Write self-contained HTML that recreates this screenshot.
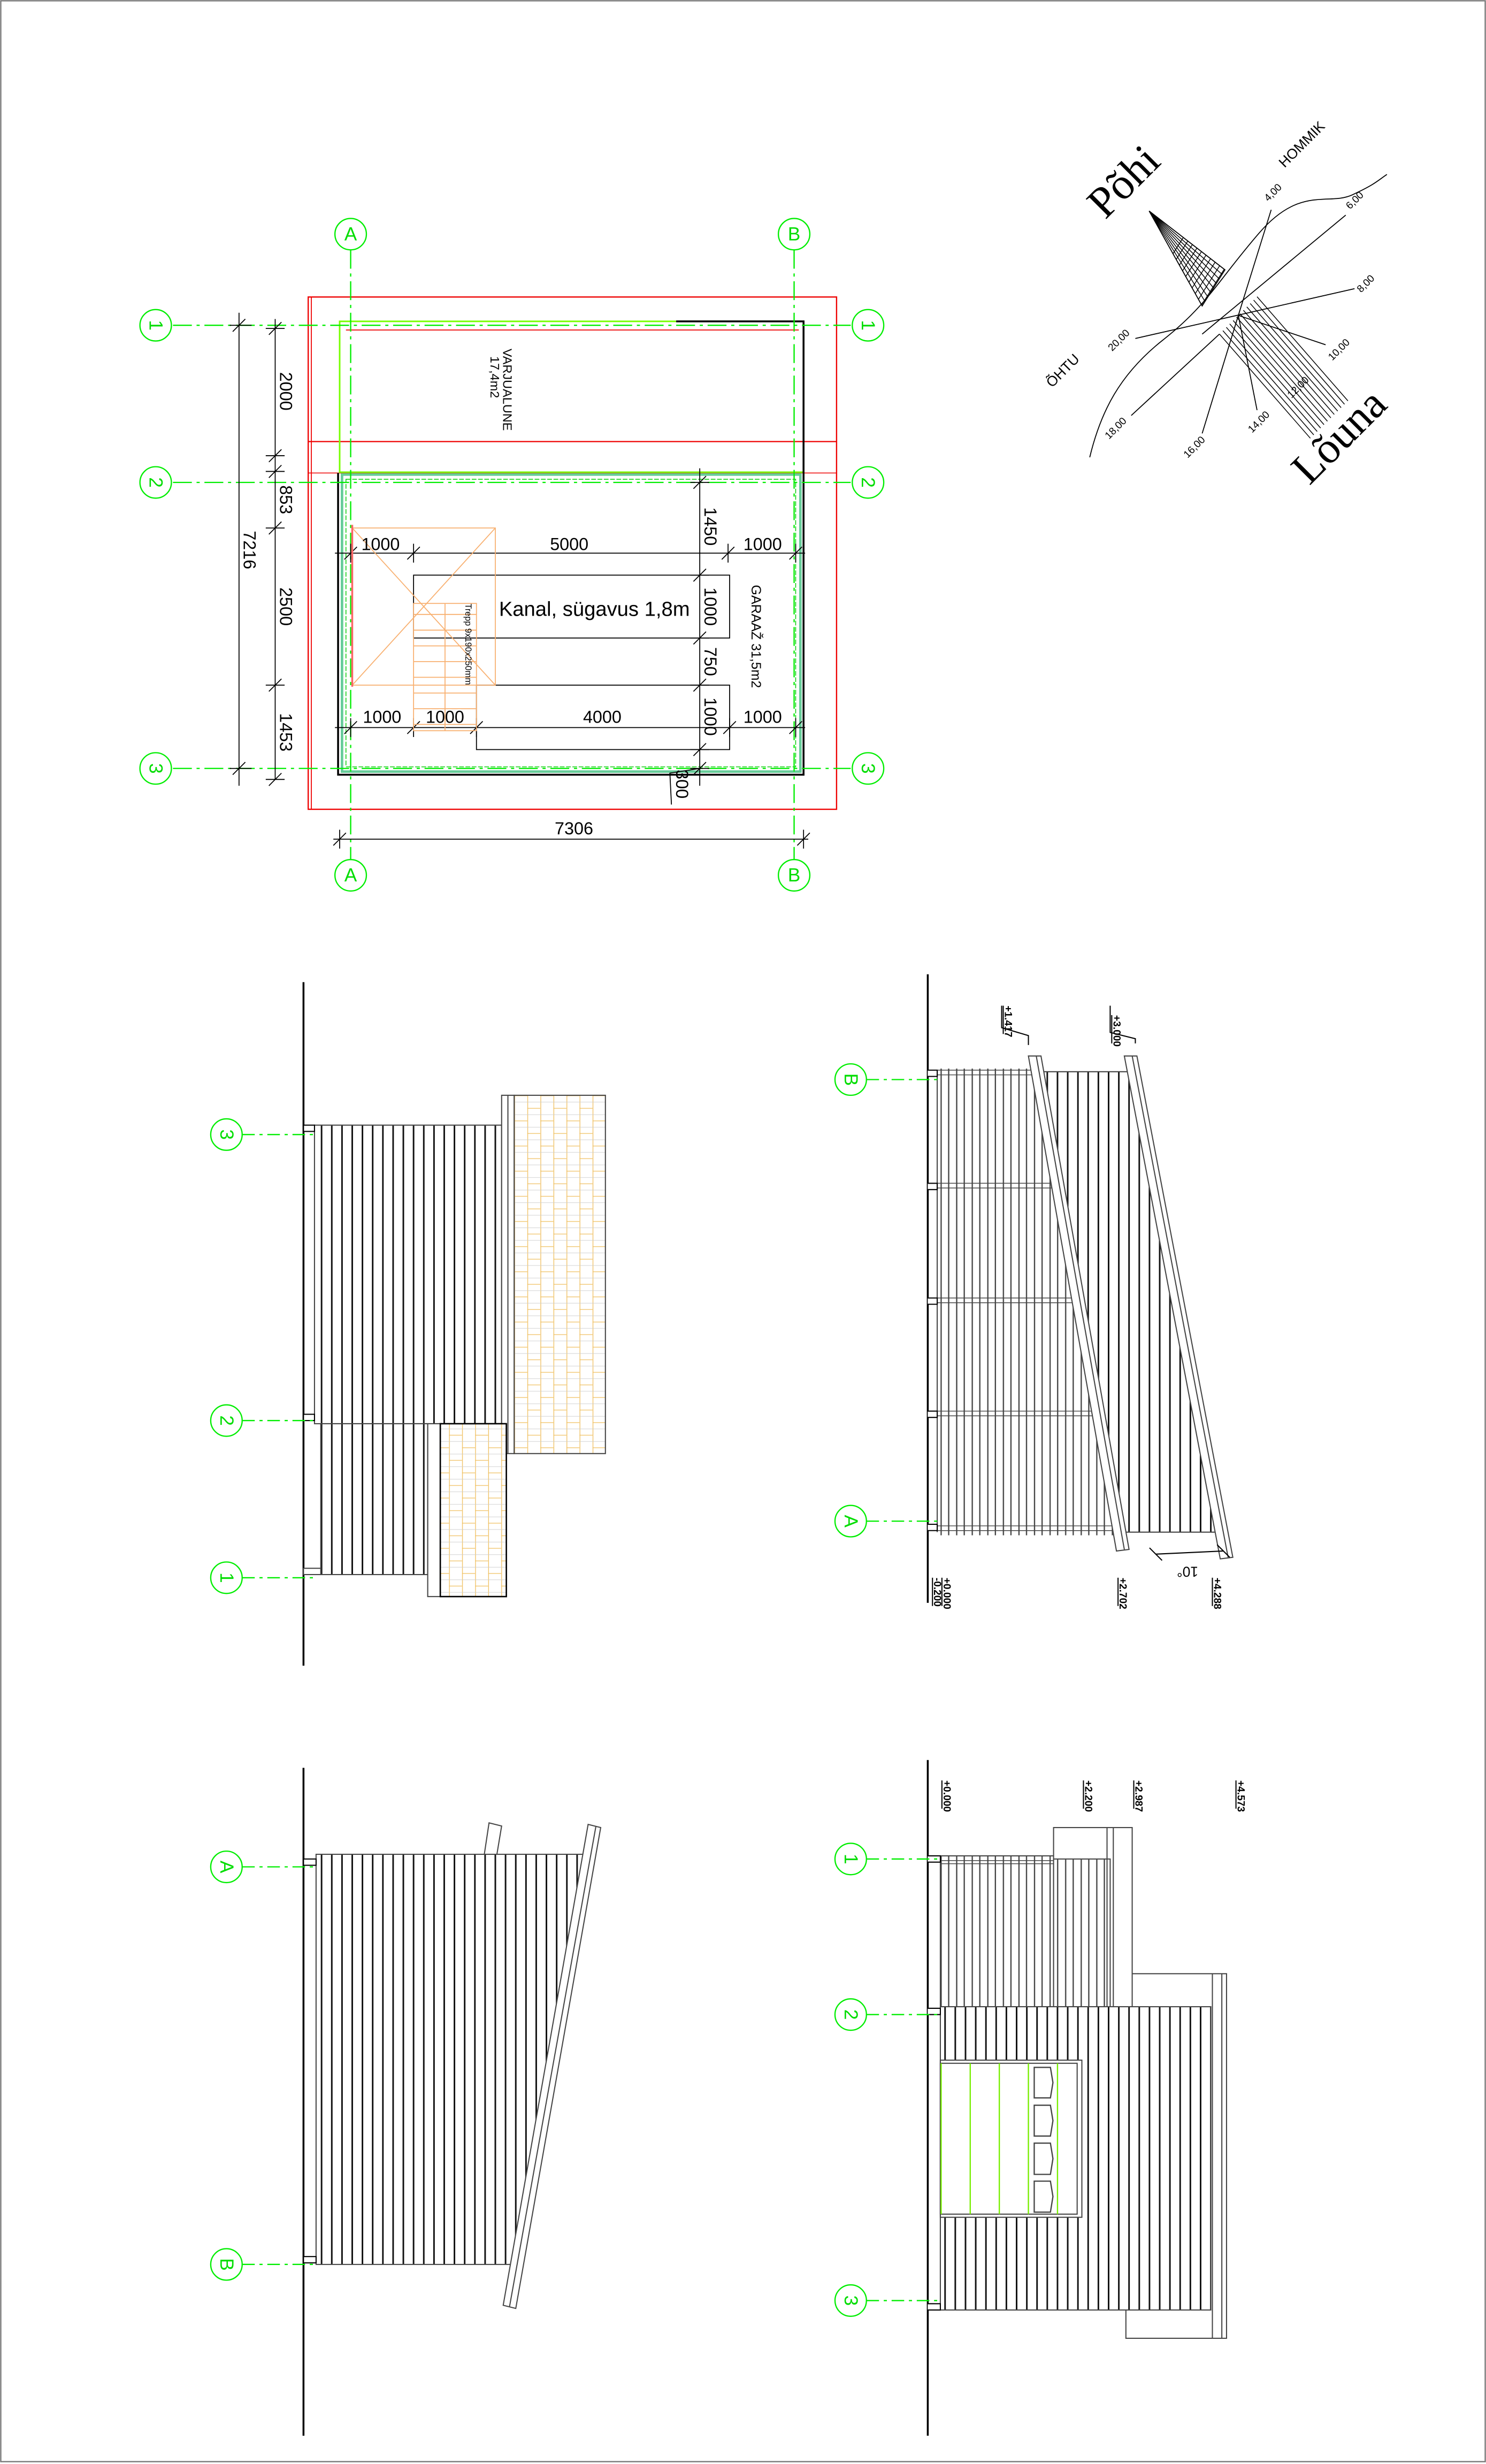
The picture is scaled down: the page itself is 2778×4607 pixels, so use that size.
<!DOCTYPE html>
<html><head><meta charset="utf-8"><style>
html,body{margin:0;padding:0;background:#fff}
svg{display:block}
text{font-family:"Liberation Sans",sans-serif}
</style></head><body>
<svg width="2778" height="4607" viewBox="0 0 945 1568" preserveAspectRatio="none" xmlns="http://www.w3.org/2000/svg">
<defs>
<pattern id="st" width="6.5" height="20" patternUnits="userSpaceOnUse"><rect width="6.5" height="20" fill="#fff"/><path d="M3 0V20" stroke="#111" stroke-width="1"/></pattern>
<pattern id="lath" x="598" width="9.9" height="20" patternUnits="userSpaceOnUse"><rect width="9.9" height="20" fill="#fff"/><path d="M0.5 0V20M5.3 0V20" stroke="#444" stroke-width="0.8"/></pattern>
<pattern id="brick" x="327" y="697" width="16.6" height="16" patternUnits="userSpaceOnUse"><rect width="16.6" height="16" fill="#fff"/><path d="M0.3 0V16M8.6 0V16M0 0.3H8.3M8.3 8.3H16.6" stroke="#f0c060" stroke-width="0.45"/><path d="M0 4.3H16.6M0 12.3H16.6" stroke="#ccc" stroke-width="0.3"/></pattern>
<clipPath id="c1"><polygon points="590,676 657,676 714,985 590,985"/></clipPath>
</defs>
<rect x="0.5" y="0.5" width="944" height="1566" fill="#fff" stroke="#777" stroke-width="0.8"/>

<g fill="none">
<rect x="196" y="189" width="336" height="326" stroke="#e00" stroke-width="0.8"/>
<line x1="198" y1="189" x2="198" y2="515" stroke="#e00" stroke-width="0.6"/>
<line x1="196" y1="281" x2="532" y2="281" stroke="#e00" stroke-width="0.8"/>
<line x1="196" y1="301" x2="532" y2="301" stroke="#e00" stroke-width="0.5"/>
<rect x="216" y="204.5" width="295" height="96" stroke="#7f0" stroke-width="1"/>
<line x1="220" y1="210" x2="508" y2="210" stroke="#e00" stroke-width="0.6"/>
<path d="M430 204.5H511V493H215V301" stroke="#000" stroke-width="1.2"/>
<rect x="217.5" y="302" width="291.5" height="189" stroke="#6c9" stroke-width="1.6"/>
<rect x="220" y="305" width="286" height="183" stroke="#0c0" stroke-width="0.5" stroke-dasharray="3 1"/>
</g>
<g stroke="#0e0" stroke-width="0.8" stroke-dasharray="12 3 2 3" fill="none">
<line x1="223" y1="159" x2="223" y2="547"/><line x1="505" y1="159" x2="505" y2="547"/>
<line x1="110" y1="207" x2="541" y2="207"/><line x1="110" y1="307" x2="541" y2="307"/><line x1="110" y1="489" x2="541" y2="489"/>
</g>
<g stroke="#0e0" stroke-width="0.8" fill="#fff">
<circle cx="223" cy="149" r="10"/><circle cx="505" cy="149" r="10"/><circle cx="223" cy="557" r="10"/><circle cx="505" cy="557" r="10"/>
<circle cx="99" cy="207" r="10"/><circle cx="552" cy="207" r="10"/><circle cx="99" cy="307" r="10"/><circle cx="552" cy="307" r="10"/><circle cx="99" cy="489" r="10"/><circle cx="552" cy="489" r="10"/>
</g>
<g fill="#0d0" font-size="12" text-anchor="middle" dominant-baseline="central">
<text x="223" y="149">A</text><text x="505" y="149">B</text><text x="223" y="557">A</text><text x="505" y="557">B</text>
<text transform="translate(99 207) rotate(90)">1</text><text transform="translate(552 207) rotate(90)">1</text>
<text transform="translate(99 307) rotate(90)">2</text><text transform="translate(552 307) rotate(90)">2</text>
<text transform="translate(99 489) rotate(90)">3</text><text transform="translate(552 489) rotate(90)">3</text>
</g>
<g stroke="#000" stroke-width="0.6" fill="none">
<line x1="152" y1="199" x2="152" y2="500"/>
<line x1="175" y1="203" x2="175" y2="496"/>
<path d="M146 207H160M148 211L156 203M146 489H160M148 493L156 485"/>
<path d="M169 209H181M171 213L179 205M169 290H181M171 294L179 286M169 300H181M171 304L179 296M169 336H181M171 340L179 332M169 436H181M171 440L179 432M169 496H181M171 500L179 492"/>
<line x1="213" y1="352" x2="512" y2="352"/>
<path d="M223 346V358M219 356L227 348M263 346V358M259 356L267 348M463 346V358M459 356L467 348M506 346V358M502 356L510 348"/>
<line x1="213" y1="463" x2="512" y2="463"/>
<path d="M223 457V469M219 467L227 459M263 457V469M259 467L267 459M303 457V469M299 467L307 459M464 457V469M460 467L468 459M506 457V469M502 467L510 459"/>
<line x1="445" y1="298" x2="445" y2="500"/>
<path d="M439 307H451M441 311L449 303M439 366H451M441 370L449 362M439 406H451M441 410L449 402M439 436H451M441 440L449 432M439 477H451M441 481L449 473M439 489H451M441 493L449 485M445 489L426 492L427 512"/>
<line x1="212" y1="534" x2="514" y2="534"/>
<path d="M216 528V540M212 538L220 530M511 528V540M507 538L515 530"/>
<rect x="263" y="366" width="201" height="40"/>
<rect x="303" y="436" width="161" height="41"/>
</g>
<g stroke="#f8b070" stroke-width="0.6" fill="none">
<rect x="224" y="336" width="91" height="100"/>
<line x1="224" y1="336" x2="315" y2="436"/><line x1="315" y1="336" x2="224" y2="436"/>
<rect x="263" y="384" width="40" height="81"/>
<line x1="283" y1="384" x2="283" y2="465"/>
<path d="M263 391H303M263 401H303M263 411H303M263 421H303M263 431H303M263 441H303M263 451H303M263 461H303"/>
</g>
<line x1="224" y1="334" x2="224" y2="437" stroke="#f66" stroke-width="1.2"/>
<g fill="#000" font-size="11" text-anchor="middle">
<text transform="translate(152 350) rotate(90)" dy="-3">7216</text>
<text transform="translate(182 249) rotate(90)" dy="4">2000</text>
<text transform="translate(182 318) rotate(90)" dy="4">853</text>
<text transform="translate(182 386) rotate(90)" dy="4">2500</text>
<text transform="translate(182 466) rotate(90)" dy="4">1453</text>
<text x="242" y="350">1000</text><text x="362" y="350">5000</text><text x="485" y="350">1000</text>
<text x="243" y="460">1000</text><text x="283" y="460">1000</text><text x="383" y="460">4000</text><text x="485" y="460">1000</text>
<text transform="translate(452 335) rotate(90)" dy="4">1450</text>
<text transform="translate(452 386) rotate(90)" dy="4">1000</text>
<text transform="translate(452 421) rotate(90)" dy="4">750</text>
<text transform="translate(452 456) rotate(90)" dy="4">1000</text>
<text transform="translate(434 499) rotate(90)" dy="4">300</text>
<text x="365" y="531">7306</text>
<text x="378" y="392" font-size="13">Kanal, sügavus 1,8m</text>
<text transform="translate(481 405) rotate(90)" font-size="8.5" dy="3">GARAAŽ 31,5m2</text>
<text transform="translate(323 248) rotate(90)" font-size="8" dy="3">VARJUALUNE</text>
<text transform="translate(315 240) rotate(90)" font-size="8" dy="3">17,4m2</text>
<text transform="translate(298 410) rotate(90)" font-size="5.5" dy="2">Trepp 9x190x250mm</text>
</g>

<g stroke="#000" stroke-width="0.6" fill="none">
<path d="M693 291C700 262 712 238 740 216S775 178 801 148S845 131 860 124S876 115 882 111"/>
<line x1="787.5" y1="200.7" x2="808.4" y2="133.5"/>
<line x1="764.5" y1="212.6" x2="855.8" y2="136.9"/>
<line x1="722" y1="215.4" x2="861.4" y2="183.7"/>
<line x1="787.5" y1="200.7" x2="843" y2="219.4"/>
<line x1="787.5" y1="200.7" x2="799.4" y2="261"/>
<line x1="787.5" y1="200.7" x2="764.5" y2="275.8"/>
<line x1="775.5" y1="212.6" x2="719.4" y2="264.4"/>
<polygon points="730.8,134.3 779,171.7 764.5,194.7"/>
</g>
<g fill="#000" font-size="6.5" text-anchor="middle">
<text transform="translate(811 124) rotate(-45)">4,00</text>
<text transform="translate(863 129) rotate(-45)">6,00</text>
<text transform="translate(870 182) rotate(-45)">8,00</text>
<text transform="translate(853 224) rotate(-45)">10,00</text>
<text transform="translate(827 248) rotate(-45)">12,00</text>
<text transform="translate(802 270) rotate(-45)">14,00</text>
<text transform="translate(761 286) rotate(-45)">16,00</text>
<text transform="translate(711 274) rotate(-45)">18,00</text>
<text transform="translate(713 218) rotate(-45)">20,00</text>
<text transform="translate(830 94) rotate(-45)" font-size="9">HOMMIK</text>
<text transform="translate(678 238) rotate(-45)" font-size="9">ÕHTU</text>
<text transform="translate(721 122) rotate(-45)" style="font-family:'Liberation Serif',serif;font-size:28px">Põhi</text>
<text transform="translate(858 284) rotate(-45)" style="font-family:'Liberation Serif',serif;font-size:28px">Lõuna</text>
</g>

<line x1="193" y1="625" x2="193" y2="1060" stroke="#000" stroke-width="1.2"/>
<g stroke="#444" stroke-width="0.7">
<rect x="200" y="716" width="119" height="190" fill="url(#st)"/>
<rect x="319" y="697" width="8" height="228" fill="#fff"/><line x1="323" y1="697" x2="323" y2="925"/>
<rect x="327" y="697" width="58" height="228" fill="url(#brick)"/>
<rect x="204" y="906" width="68" height="96" fill="url(#st)"/>
<rect x="272" y="906" width="8" height="110" fill="#fff"/>
<rect x="280" y="906" width="42" height="110" fill="url(#brick)" stroke="#000" stroke-width="0.9"/>
<rect x="193" y="716" width="7" height="4" fill="#fff" stroke="#000"/>
<rect x="193" y="900" width="7" height="4" fill="#fff" stroke="#000"/>
<rect x="193" y="998" width="11" height="4" fill="#fff"/>
</g>
<line x1="193" y1="1125" x2="193" y2="1550" stroke="#000" stroke-width="1.2"/>
<g stroke="#444" stroke-width="0.7">
<polygon points="201,1180 372,1180 325,1441 201,1441" fill="url(#st)"/>
<polygon points="374,1161 382,1163 328,1469 320,1467" fill="#fff"/>
<line x1="379" y1="1162" x2="324" y2="1468"/>
<polygon points="311,1160 319,1162 316,1180 308,1180" fill="#fff"/>
<rect x="193" y="1183" width="8" height="4" fill="#fff" stroke="#000"/>
<rect x="193" y="1436" width="8" height="4" fill="#fff" stroke="#000"/>
</g>
<line x1="590" y1="620" x2="590" y2="1020" stroke="#000" stroke-width="1.2"/>
<g stroke="#444" stroke-width="0.7">
<g clip-path="url(#c1)"><rect x="596" y="680" width="130" height="297" fill="url(#lath)" stroke="none"/>
<path d="M596 681H720M596 684H720M596 753H720M596 756H720M596 826H720M596 829H720M596 898H720M596 901H720M596 971H720M596 974H720" stroke-width="0.5"/></g>
<line x1="596" y1="681" x2="596" y2="975"/>
<polygon points="657,682 720,682 777,975 710,975" fill="url(#st)"/>
<polygon points="654,672 662,672 718,986 710,987" fill="#fff"/><line x1="659" y1="672" x2="715" y2="986"/>
<polygon points="715,672 723,672 784,991 776,992" fill="#fff"/><line x1="720" y1="672" x2="781" y2="991"/>
<path d="M590 681H596V685H590M590 753H596V757H590M590 826H596V830H590M590 898H596V902H590M590 970H596V974H590" fill="#fff" stroke="#000"/>
<path d="M637 640V654L654 659V665M706 640V657L722 661V664" stroke="#000" fill="none"/>
<path d="M735 989L778 987M731 985L739 993M774 983L782 991" stroke="#000" fill="none"/>
</g>
<line x1="590" y1="1120" x2="590" y2="1550" stroke="#000" stroke-width="1.2"/>
<g stroke="#444" stroke-width="0.7">
<rect x="716" y="1256" width="64" height="232" fill="#fff"/>
<line x1="771" y1="1256" x2="771" y2="1488"/><line x1="777" y1="1256" x2="777" y2="1488"/>
<rect x="598" y="1181" width="108" height="96" fill="url(#lath)"/>
<path d="M598 1181H707M598 1184H707M598 1186H707" stroke-width="0.5"/>
<rect x="670" y="1163" width="50" height="114" fill="#fff"/>
<rect x="670" y="1183" width="36" height="94" fill="url(#lath)"/>
<line x1="704" y1="1163" x2="704" y2="1277"/><line x1="708" y1="1163" x2="708" y2="1277"/>
<rect x="598" y="1277" width="172" height="193" fill="url(#st)"/>
<rect x="598" y="1311" width="90" height="100" fill="#fff"/>
<rect x="598" y="1313" width="87" height="96" fill="none"/>
<path d="M598.5 1313V1409M617 1313V1409M635.5 1313V1409M654 1313V1409M672.5 1313V1409" stroke="#7e0" stroke-width="0.8"/>
<path d="M657.7 1315.6H668L669.6 1325.3L668 1335H657.7ZM657.7 1339.7H668L669.6 1349.5L668 1359.3H657.7ZM657.7 1363.8H668L669.6 1373.7L668 1383.7H657.7ZM657.7 1388H668L669.6 1397.8L668 1407.7H657.7Z" fill="#fff" stroke="#444" stroke-width="0.8"/>
<path d="M590 1181H598V1185H590M590 1278H598V1282H590M590 1466H598V1470H590" fill="#fff" stroke="#000"/>
</g>
<g stroke="#0e0" stroke-width="0.8" stroke-dasharray="8 3 2 3">
<line x1="154" y1="722" x2="200" y2="722"/><line x1="154" y1="904" x2="200" y2="904"/><line x1="154" y1="1004" x2="200" y2="1004"/>
<line x1="154" y1="1188" x2="200" y2="1188"/><line x1="154" y1="1441" x2="200" y2="1441"/>
<line x1="551" y1="687" x2="596" y2="687"/><line x1="551" y1="968" x2="596" y2="968"/>
<line x1="551" y1="1183" x2="598" y2="1183"/><line x1="551" y1="1282" x2="598" y2="1282"/><line x1="551" y1="1464" x2="598" y2="1464"/>
</g>
<g stroke="#0e0" stroke-width="0.8" fill="#fff">
<circle cx="144" cy="722" r="10"/><circle cx="144" cy="904" r="10"/><circle cx="144" cy="1004" r="10"/>
<circle cx="144" cy="1188" r="10"/><circle cx="144" cy="1441" r="10"/>
<circle cx="541" cy="687" r="10"/><circle cx="541" cy="968" r="10"/>
<circle cx="541" cy="1183" r="10"/><circle cx="541" cy="1282" r="10"/><circle cx="541" cy="1464" r="10"/>
</g>
<g fill="#0d0" font-size="12" text-anchor="middle" dominant-baseline="central">
<text transform="translate(144 722) rotate(90)">3</text><text transform="translate(144 904) rotate(90)">2</text><text transform="translate(144 1004) rotate(90)">1</text>
<text transform="translate(144 1188) rotate(90)">A</text><text transform="translate(144 1441) rotate(90)">B</text>
<text transform="translate(541 687) rotate(90)">B</text><text transform="translate(541 968) rotate(90)">A</text>
<text transform="translate(541 1183) rotate(90)">1</text><text transform="translate(541 1282) rotate(90)">2</text><text transform="translate(541 1464) rotate(90)">3</text>
</g>
<g fill="#000" font-size="6.5" font-weight="bold" text-anchor="start">
<text transform="translate(639 640) rotate(90)">+1.417</text>
<text transform="translate(708 646) rotate(90)">+3.000</text>
<text transform="translate(600 1004) rotate(90)">+0.000</text>
<text transform="translate(594 1004) rotate(90)">-0.200</text>
<text transform="translate(712 1004) rotate(90)">+2.702</text>
<text transform="translate(772 1004) rotate(90)">+4.288</text>
<text transform="translate(762 997) rotate(180)" font-weight="normal" font-size="9">10°</text>
<text transform="translate(600 1133) rotate(90)">+0.000</text>
<text transform="translate(690 1133) rotate(90)">+2.200</text>
<text transform="translate(722 1133) rotate(90)">+2.987</text>
<text transform="translate(787 1133) rotate(90)">+4.573</text>
</g>
<g stroke="#000" stroke-width="0.7">
<path d="M638 640V658M707 646V664M599 1004V1022M593 1004V1022M711 1004V1022M771 1004V1022M599 1133V1151M689 1133V1151M721 1133V1151M786 1133V1151"/>
</g>
<g stroke="#000" stroke-width="0.5" id="hatch"></g>
<script>
(function(){
var g=document.getElementById('hatch'),ns='http://www.w3.org/2000/svg';
function L(a,b,c,d){var l=document.createElementNS(ns,'line');l.setAttribute('x1',a);l.setAttribute('y1',b);l.setAttribute('x2',c);l.setAttribute('y2',d);g.appendChild(l);}
var A=[730.8,134.3],B1=[779,171.7],B2=[764.5,194.7];
for(var i=0;i<=8;i++){var t=i/8;L(A[0],A[1],B1[0]+(B2[0]-B1[0])*t,B1[1]+(B2[1]-B1[1])*t);}
for(var s=0.45;s<=1.001;s+=0.06){L(A[0]+(B1[0]-A[0])*s,A[1]+(B1[1]-A[1])*s,A[0]+(B2[0]-A[0])*s,A[1]+(B2[1]-A[1])*s);}
var p0=[799.4,188.8],p1=[775.5,212.6];
for(var k=0;k<12;k++){var t=k/11;var x=p0[0]+(p1[0]-p0[0])*t,y=p0[1]+(p1[1]-p0[1])*t;L(x,y,x+57.8,y+66.3);}
})();
</script>
</svg>
</body></html>
